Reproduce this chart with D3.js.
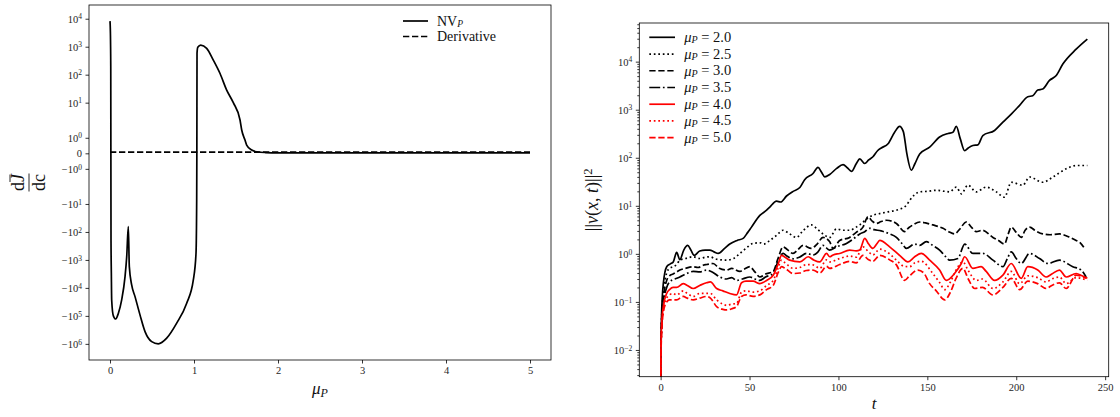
<!DOCTYPE html>
<html>
<head>
<meta charset="utf-8">
<script src="https://cdn.jsdelivr.net/npm/d3@7"></script>
<style>
  body { margin: 0; background: #fff; }
  svg { display: block; font-family: "Liberation Serif", serif; }
  .axis line { stroke: #000; stroke-width: 0.8; }
  .axis text { fill: #262626; font-size: 10.5px; font-family: "Liberation Serif", serif; }
  .frame { fill: none; stroke: #000; stroke-width: 0.8; }
</style>
</head>
<body>
<script>
const W = 1120, H = 417;

// ---- left panel data: NV_P against mu_P (symlog y) ----
const muGrid = [0, 0.005, 0.009, 0.012, 0.016, 0.02, 0.04, 0.068, 0.1, 0.139, 0.179, 0.199, 0.218,
  0.23, 0.258, 0.298, 0.357, 0.417, 0.496, 0.575, 0.675, 0.794, 0.913, 0.992, 1.024, 1.032, 1.034,
  1.036, 1.045, 1.08, 1.151, 1.23, 1.31, 1.389, 1.468, 1.548, 1.568, 1.607, 1.627, 1.687, 1.746,
  1.85, 2, 3, 4, 5];
const nvP = [8200, 3000, 200, -200, -3000, -27000, -100000, -129000, -80000, -26900, -3950, -764, -65,
  -1740, -7830, -20500, -92000, -364000, -830000, -1000000, -626000, -182000, -35200, -5190, -577, -7.2, 0,
  590, 958, 1142, 873, 331, 110, 28.2, 10, 2.4, 1.5, 0.85, 0.53, 0.21, 0.1,
  0.05, 0.03, 0.03, 0.03, 0.03];
const derivMu = [0, 5];
const derivative = [0.08, 0.08];
const leftTicksX = [0, 1, 2, 3, 4, 5];
const leftTicksY = [1e4, 1e3, 1e2, 1e1, 1e0, 0, -1e0, -1e1, -1e2, -1e3, -1e4, -1e5, -1e6];

// ---- right panel data: ||v||^2 against t (log y), one list of [t, value] per mu_P ----
const muLabels = ["2.0", "2.5", "3.0", "3.5", "4.0", "4.5", "5.0"];
const mu20 = [[0,0],[0.15,0.009],[0.5,0.05],[1.5,0.24],[3.4,0.54],[5.5,0.62],[7.1,0.68],[9,1.07],[10.8,0.76],[13,1.2],[15.2,1.5],[17,1.2],[18.9,0.93],[22,1.15],[25,1.2],[27.7,1.2],[30,1.1],[32.4,1.02],[36,1.3],[38.9,1.6],[43,1.9],[46.4,2.1],[49,2.8],[51.1,3.6],[55.8,6.3],[59.6,8.1],[61.4,9.4],[65.2,12.5],[67.5,12],[70.8,16],[74.5,20],[78.3,24],[81,35],[85.7,47],[88.5,63],[90.5,50],[92.3,40],[95.1,45],[99,60],[102.6,72],[105,62],[107.3,52],[110,75],[112,95],[114.8,76],[117,90],[119.4,105],[122,140],[124.1,160],[127.9,195],[131.6,340],[134.4,450],[136.5,350],[138.5,120],[141,55],[143,75],[145.7,120],[151.3,166],[156.9,270],[161.6,320],[164.4,340],[166.3,450],[168.5,250],[171,140],[173,160],[175.6,180],[178.4,185],[181.2,290],[187.8,370],[192.5,550],[197.2,810],[201.9,1230],[206.5,1860],[209.3,1950],[212.1,2570],[214.9,2690],[218.7,4070],[222.5,5130],[226.2,8900],[233.7,18200],[240,29500]];
const mu25 = [[0,0],[0.15,0.008],[0.5,0.04],[1.5,0.15],[3.4,0.4],[5,0.5],[7.1,0.54],[9,0.6],[10.8,0.74],[14,0.8],[18.3,0.87],[22,0.8],[25,0.85],[27.7,0.87],[31,0.78],[34,0.75],[37.1,0.74],[41,0.8],[44.6,1.02],[48,1.3],[52,1.65],[56,1.7],[58,1.6],[61.4,1.9],[65,2.4],[68.9,3.1],[72,2.7],[76.4,2.2],[80,3.0],[84.8,4.0],[88,3.3],[91.3,2.6],[95.1,2.2],[98.9,3.3],[102.6,3.1],[106.3,3.1],[110,3.6],[112,4.0],[115,5.0],[117.6,5.9],[120,6.5],[123.2,6.9],[128,7.5],[132.6,8.1],[138.2,10.2],[140,12.9],[145.7,19.5],[150,20],[155,21],[160,20],[162.5,19.5],[166.3,24.5],[169.1,17.8],[172.8,26.9],[177.5,19.5],[183.1,24.5],[188.8,19.5],[193.4,15.1],[197.2,30.9],[203.7,26.9],[207.5,39.8],[214.9,30.9],[220.6,39.8],[228.1,58.9],[233.7,69],[240,69]];
const mu30 = [[0,0],[0.15,0.007],[0.5,0.03],[1.5,0.11],[3.4,0.28],[5,0.35],[7,0.38],[9,0.42],[10.8,0.46],[14,0.5],[18.3,0.54],[21,0.52],[23.9,0.58],[26,0.6],[29.5,0.63],[33,0.5],[37.1,0.46],[40,0.5],[44.6,0.43],[47,0.48],[50.2,0.54],[53,0.42],[55.8,0.33],[59,0.38],[63.3,0.43],[66,0.8],[68.9,1.4],[71,1.25],[74.5,1.02],[77,1.2],[80.1,1.5],[84.8,1.3],[88,1.6],[91.3,2.2],[95,1.8],[97,1.3],[100.7,1.9],[106.3,2.2],[110,2.8],[113.8,3.6],[116.6,5.9],[119,4.8],[121.3,4.3],[124,4.7],[127,5.0],[132.6,4.3],[137.2,2.9],[139.5,3.5],[141.9,4.0],[145.7,4.6],[149,4.4],[153.1,4.0],[158.8,3.4],[162,2.9],[165.3,2.6],[168,3.2],[171.9,4.6],[175,3.5],[177.5,2.9],[181,3.1],[186.9,2.2],[190,1.9],[193.4,1.6],[195.5,2.6],[197.2,3.6],[200,2.8],[202.8,2.2],[205,3.1],[207.5,3.6],[211,3.0],[214.9,2.6],[219,2.5],[224.3,2.6],[229,2.3],[233.7,1.9],[236,1.7],[238.4,1.3]];
const mu35 = [[0,0],[0.15,0.007],[0.5,0.025],[1.5,0.09],[3.4,0.2],[5,0.26],[7,0.29],[9,0.31],[10.8,0.33],[14,0.38],[18.3,0.43],[22,0.42],[25.8,0.46],[29,0.42],[33.3,0.33],[37,0.3],[40,0.32],[42.7,0.28],[46,0.3],[50.2,0.33],[53,0.3],[55.8,0.28],[59,0.33],[63.3,0.39],[66,0.7],[68.9,1.02],[71,0.9],[74.5,0.79],[78,0.85],[82,1.02],[86,0.95],[88.5,1.1],[91.3,1.5],[95,1.2],[98.9,1.4],[104.5,1.65],[108,2.0],[112,2.6],[114.8,2.9],[117.6,3.4],[120,3.2],[124,3.0],[128.8,2.6],[132.6,2.2],[136,1.6],[138.2,1.3],[142.9,1.6],[145.7,1.5],[149.4,1.8],[153,1.5],[156.9,1.2],[160,0.9],[162.5,0.74],[167.2,0.8],[171,1.6],[175.6,1.02],[181.2,1.02],[186.9,0.74],[192.5,0.54],[195,0.8],[197.2,1.1],[200,0.8],[202.8,0.63],[207.5,1.02],[213.1,0.8],[217.8,0.63],[224.3,0.74],[231.8,0.54],[236.5,0.46],[239.3,0.33]];
const mu40 = [[0,0],[0.15,0.007],[0.5,0.03],[1.5,0.08],[3.4,0.15],[5,0.18],[7,0.2],[9,0.2],[12.7,0.24],[15,0.22],[18.3,0.19],[22,0.22],[25.8,0.25],[28,0.26],[31.5,0.19],[35,0.17],[38.9,0.15],[42.7,0.14],[45.5,0.25],[48,0.27],[52,0.27],[55.8,0.24],[59.6,0.28],[63.3,0.36],[66,0.6],[68,0.93],[70,0.85],[72.6,0.74],[78.3,0.68],[83,0.87],[86,0.75],[89.5,0.68],[93.3,1.02],[95.1,0.87],[97,0.95],[100.7,1.02],[106.3,1.2],[110,1.15],[112,1.2],[114.8,2.1],[117,1.6],[119.4,1.3],[121.5,1.6],[123.2,1.9],[128.8,1.4],[134.4,0.93],[139.1,0.68],[142.9,0.87],[146.6,1.02],[151.3,0.74],[156.9,0.46],[160.7,0.28],[165.3,0.39],[169.1,0.63],[171,0.87],[175.6,0.5],[180.3,0.54],[183.1,0.43],[187.8,0.28],[192.5,0.36],[197.2,0.63],[202.8,0.31],[206.5,0.54],[212.1,0.46],[216.8,0.33],[220,0.38],[224.3,0.46],[228.1,0.33],[233.7,0.39],[237,0.35],[240,0.31]];
const mu45 = [[0,0],[0.15,0.006],[0.5,0.025],[1.5,0.07],[3.4,0.12],[5,0.14],[7,0.15],[9,0.14],[12.7,0.17],[15,0.15],[18.3,0.13],[22,0.15],[25.8,0.15],[28,0.15],[31.5,0.11],[35,0.09],[37.1,0.085],[40,0.09],[42.7,0.093],[45.5,0.16],[48,0.17],[52,0.16],[55.8,0.17],[59.6,0.22],[63.3,0.28],[66,0.5],[68,0.74],[70,0.65],[74.5,0.5],[78.3,0.52],[82,0.6],[85.7,0.59],[89.5,0.5],[93.3,0.75],[95.1,0.68],[100.7,0.8],[106.3,0.9],[110,0.85],[113.8,1.4],[117,1.1],[119.4,0.95],[123.2,1.25],[128.8,1.0],[132.6,0.74],[137,0.55],[140,0.54],[143,0.65],[146.6,0.7],[153.1,0.39],[157,0.25],[159.8,0.18],[163,0.26],[166,0.45],[170,0.68],[173,0.45],[177.5,0.28],[181,0.3],[186.9,0.19],[192.5,0.26],[197.2,0.43],[201.9,0.24],[206.5,0.35],[212,0.32],[216.8,0.26],[220,0.3],[224.3,0.33],[228.1,0.24],[233.7,0.32],[240,0.28]];
const mu50 = [[0,0],[0.15,0.006],[0.5,0.02],[1.5,0.06],[3.4,0.1],[5,0.11],[7,0.11],[9,0.11],[12.7,0.13],[15,0.12],[18.3,0.11],[22,0.12],[25.8,0.13],[28,0.12],[31.5,0.08],[35,0.07],[37.1,0.068],[40,0.072],[42.7,0.08],[45.5,0.13],[48,0.14],[52,0.13],[55.8,0.14],[59.6,0.18],[63.3,0.22],[66,0.4],[68,0.54],[70,0.5],[74.5,0.39],[78.3,0.4],[82,0.45],[85.7,0.46],[89.5,0.4],[93.3,0.55],[95.1,0.5],[100.7,0.6],[106.3,0.7],[110,0.65],[113.8,0.93],[117,0.75],[119.4,0.7],[123.2,0.93],[128.8,0.75],[132.6,0.59],[137.2,0.28],[140,0.35],[144.7,0.46],[148,0.4],[151.3,0.24],[155,0.17],[159.8,0.11],[163,0.16],[166,0.3],[170,0.5],[173,0.3],[176.6,0.19],[181,0.2],[186.9,0.14],[192.5,0.2],[197.2,0.31],[201.9,0.18],[206.5,0.27],[212,0.24],[216.8,0.19],[220,0.22],[224.3,0.25],[228.1,0.19],[233.7,0.36],[239.3,0.31]];
const rightSeries = [mu20, mu25, mu30, mu35, mu40, mu45, mu50];
const seriesColors = ["#000", "#000", "#000", "#000", "#f00", "#f00", "#f00"];
const seriesDash = ["none", "1.7,2.8", "6.3,2.7", "10.9,2.7,1.7,2.7", "none", "1.7,2.8", "6.3,2.7"];
const rightTicksX = [0, 50, 100, 150, 200, 250];
const rightTicksY = [1e-2, 1e-1, 1e0, 1e1, 1e2, 1e3, 1e4];

const svg = d3.select("body").append("svg")
    .attr("width", W)
    .attr("height", H);

// matplotlib style symlog (base 10, linthresh 2, linscale 1)
const linthresh = 2, linAdj = 1 / (1 - 1 / 10);
function symlog(v) {
    const a = Math.abs(v);
    if (a <= linthresh) return v * linAdj;
    return Math.sign(v) * linthresh * (linAdj + Math.log10(a / linthresh));
}

function pad(ext) {
    const m = (ext[1] - ext[0]) * 0.05;
    return [ext[0] - m, ext[1] + m];
}

function powText(sel, parts) {
    sel.each(function (d) {
        const p = parts(d);
        const t = d3.select(this).text("");
        t.append("tspan").text(p[0]);
        if (p[1] != null) {
            t.append("tspan").attr("dy", "-0.42em").style("font-size", "7.5px").text(p[1]);
        }
    });
}
const supMinus = e => (e < 0 ? "\u2212" + (-e) : "" + e);

// ================= left panel =================
const L = { left: 89, right: 551, top: 5, bottom: 360 };

let xL = d3.scaleLinear().domain(pad([0, 5])).range([L.left, L.right]);
let allLeft = nvP.concat(derivative).map(symlog);
let yL = d3.scaleLinear().domain(pad(d3.extent(allLeft))).range([L.bottom, L.top]);

const gxL = svg.append("g")
    .attr("class", "axis")
    .attr("transform", `translate(0, ${L.bottom})`)
    .call(d3.axisBottom(xL).tickValues(leftTicksX).tickFormat(d3.format("d")).tickSize(3.5).tickPadding(3.5));
gxL.select(".domain").remove();

const gyL = svg.append("g")
    .attr("class", "axis")
    .attr("transform", `translate(${L.left}, 0)`)
    .call(d3.axisLeft(yL).tickValues(leftTicksY.map(symlog)).tickSize(3.5).tickPadding(3.5));
gyL.select(".domain").remove();
gyL.selectAll(".tick text").each(function (d, i) {
    const v = leftTicksY[i];
    powText(d3.select(this), () => v === 0 ? ["0", null]
        : [(v < 0 ? "\u221210" : "10"), "" + Math.round(Math.log10(Math.abs(v)))]);
});

svg.append("clipPath").attr("id", "clipL")
    .append("rect")
    .attr("x", L.left).attr("y", L.top)
    .attr("width", L.right - L.left).attr("height", L.bottom - L.top);

const lineL = d3.line()
    .x(d => xL(d[0]))
    .y(d => yL(symlog(d[1])))
    .curve(d3.curveMonotoneX);

svg.append("path")
    .datum(muGrid.map((m, i) => [m, nvP[i]]))
    .attr("clip-path", "url(#clipL)")
    .attr("fill", "none")
    .attr("stroke", "#000")
    .attr("stroke-width", 1.7)
    .attr("d", lineL);

svg.append("path")
    .datum(derivMu.map((m, i) => [m, derivative[i]]))
    .attr("clip-path", "url(#clipL)")
    .attr("fill", "none")
    .attr("stroke", "#000")
    .attr("stroke-width", 1.7)
    .attr("stroke-dasharray", "6.3,2.7")
    .attr("d", lineL);

svg.append("rect").attr("class", "frame")
    .attr("x", L.left).attr("y", L.top)
    .attr("width", L.right - L.left).attr("height", L.bottom - L.top);

// legend
const legL = svg.append("g").attr("transform", "translate(403, 21)");
[["none", "NV", "P"], ["6.3,2.7", "Derivative", null]].forEach((row, i) => {
    legL.append("line")
        .attr("x1", 0).attr("x2", 25)
        .attr("y1", i * 15.5).attr("y2", i * 15.5)
        .attr("stroke", "#000").attr("stroke-width", 1.7)
        .attr("stroke-dasharray", row[0]);
    const t = legL.append("text")
        .attr("x", 34).attr("y", i * 15.5 + 4.8)
        .style("font-size", "14px").attr("fill", "#111");
    t.append("tspan").text(row[1]);
    if (row[2]) t.append("tspan").attr("dy", "0.1em").style("font-size", "9.5px").style("font-style", "italic").text(row[2]);
});

// y label: dJ̄/dc
const ylabL = svg.append("g").attr("transform", `translate(29, ${(L.top + L.bottom) / 2}) rotate(-90)`)
    .style("font-size", "18px").attr("fill", "#111");
const num = ylabL.append("text").attr("text-anchor", "middle").attr("y", -5);
num.append("tspan").text("d");
num.append("tspan").style("font-style", "italic").text("J");
ylabL.append("line").attr("x1", 0.5).attr("x2", 8).attr("y1", -19).attr("y2", -19).attr("stroke", "#111").attr("stroke-width", 0.9);
ylabL.append("line").attr("x1", -9).attr("x2", 9).attr("y1", 0).attr("y2", 0).attr("stroke", "#111").attr("stroke-width", 0.9);
ylabL.append("text").attr("text-anchor", "middle").attr("y", 16).text("dc");

// x label
const xlabL = svg.append("text")
    .attr("x", (L.left + L.right) / 2).attr("y", 394)
    .attr("text-anchor", "middle").style("font-size", "17px").style("font-style", "italic").attr("fill", "#111");
xlabL.append("tspan").text("\u03bc");
xlabL.append("tspan").attr("dy", "0.25em").style("font-size", "12px").text("P");

// ================= right panel =================
const R = { left: 639.3, right: 1108.7, top: 23, bottom: 376.7 };

let xR = d3.scaleLinear().domain(pad([0, 240])).range([R.left, R.right]);
let positives = rightSeries.flat().map(d => d[1]).filter(v => v > 0);
let logExt = pad(d3.extent(positives).map(Math.log10));
let yR = d3.scaleLog().domain(logExt.map(e => Math.pow(10, e))).range([R.bottom, R.top]);

const gxR = svg.append("g")
    .attr("class", "axis")
    .attr("transform", `translate(0, ${R.bottom})`)
    .call(d3.axisBottom(xR).tickValues(rightTicksX).tickFormat(d3.format("d")).tickSize(3.5).tickPadding(3.5));
gxR.select(".domain").remove();

// minor log ticks
let minor = [];
for (let e = -3; e <= 4; e++) for (let k = 2; k <= 9; k++) minor.push(k * Math.pow(10, e));
minor = minor.filter(v => v > yR.domain()[0] && v < yR.domain()[1]);
const gyRm = svg.append("g")
    .attr("class", "axis")
    .attr("transform", `translate(${R.left}, 0)`)
    .call(d3.axisLeft(yR).tickValues(minor).tickFormat("").tickSize(2));
gyRm.select(".domain").remove();
gyRm.selectAll("line").attr("stroke-width", 0.6);

const gyR = svg.append("g")
    .attr("class", "axis")
    .attr("transform", `translate(${R.left}, 0)`)
    .call(d3.axisLeft(yR).tickValues(rightTicksY).tickSize(3.5).tickPadding(3.5));
gyR.select(".domain").remove();
powText(gyR.selectAll(".tick text"), d => ["10", supMinus(Math.round(Math.log10(d)))]);

svg.append("clipPath").attr("id", "clipR")
    .append("rect")
    .attr("x", R.left).attr("y", R.top)
    .attr("width", R.right - R.left).attr("height", R.bottom - R.top);

const yFloor = yR.domain()[0] / 100;
const lineR = d3.line()
    .x(d => xR(d[0]))
    .y(d => yR(Math.max(d[1], yFloor)))
    .curve(d3.curveMonotoneX);

rightSeries.forEach((s, i) => {
    svg.append("path")
        .datum(s)
        .attr("clip-path", "url(#clipR)")
        .attr("fill", "none")
        .attr("stroke", seriesColors[i])
        .attr("stroke-width", 1.7)
        .attr("stroke-dasharray", seriesDash[i])
        .attr("d", lineR);
});

svg.append("rect").attr("class", "frame")
    .attr("x", R.left).attr("y", R.top)
    .attr("width", R.right - R.left).attr("height", R.bottom - R.top);

// legend
const legR = svg.append("g").attr("transform", "translate(649.3, 37.3)");
muLabels.forEach((lab, i) => {
    const y = i * 16.73;
    legR.append("line")
        .attr("x1", 0).attr("x2", 25.7)
        .attr("y1", y).attr("y2", y)
        .attr("stroke", seriesColors[i]).attr("stroke-width", 1.7)
        .attr("stroke-dasharray", seriesDash[i]);
    const t = legR.append("text")
        .attr("x", 35).attr("y", y + 5)
        .style("font-size", "14.5px").attr("fill", "#111");
    t.append("tspan").style("font-style", "italic").text("\u03bc");
    t.append("tspan").attr("dy", "0.1em").style("font-size", "10px").style("font-style", "italic").text("P");
    t.append("tspan").attr("dy", "-0.1em").text(" = " + lab);
});

// y label ||v(x,t)||^2
const ylabR = svg.append("text")
    .attr("transform", `translate(598, ${(R.top + R.bottom) / 2}) rotate(-90)`)
    .attr("text-anchor", "middle").style("font-size", "18px").attr("fill", "#111");
ylabR.append("tspan").text("||");
ylabR.append("tspan").style("font-style", "italic").text("v");
ylabR.append("tspan").text("(");
ylabR.append("tspan").style("font-style", "italic").text("x");
ylabR.append("tspan").text(", ");
ylabR.append("tspan").style("font-style", "italic").text("t");
ylabR.append("tspan").text(")||");
ylabR.append("tspan").attr("dy", "-0.45em").style("font-size", "12.5px").text("2");

// x label
svg.append("text")
    .attr("x", (R.left + R.right) / 2).attr("y", 409)
    .attr("text-anchor", "middle").style("font-size", "17px").style("font-style", "italic").attr("fill", "#111")
    .text("t");
</script>
</body>
</html>
